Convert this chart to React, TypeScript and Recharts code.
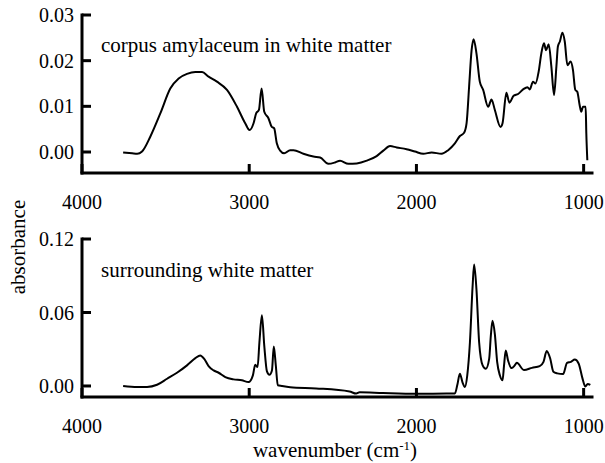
import { Line, LineChart, XAxis, YAxis } from 'recharts';

// corpus amylaceum spectrum (top panel)
const caWavenumber = [
  3754, 3700, 3670, 3641, 3591, 3531, 3472, 3422, 3372, 3322, 3282, 3243, 3193, 3133, 3073, 3024,
  2998, 2974, 2958, 2942, 2926, 2910, 2885, 2865, 2851, 2835, 2815, 2791, 2755, 2735, 2676, 2616,
  2576, 2527, 2487, 2457, 2407, 2357, 2297, 2238, 2198, 2158, 2118, 2059, 2009, 1959, 1909, 1850,
  1810, 1770, 1740, 1715, 1700, 1685, 1670, 1658, 1641, 1621, 1601, 1571, 1551, 1531, 1497, 1485,
  1462, 1444, 1419, 1392, 1362, 1336, 1322, 1303, 1288, 1269, 1253, 1237, 1225, 1209, 1193, 1177,
  1163, 1154, 1142, 1127, 1113, 1097, 1078, 1064, 1050, 1038, 1024, 1014, 1004, 988, 984, 978,
];
const caAbsorbance = [
  -0.0001, -0.0003, -0.0004, 0.0001, 0.0034, 0.0085, 0.0139, 0.0161, 0.0171, 0.0175, 0.0175,
  0.0165, 0.0154, 0.0136, 0.0099, 0.0063, 0.0048, 0.0063, 0.0085, 0.0092, 0.0139, 0.0088, 0.0074,
  0.0055, 0.0052, 0.0019, 0.0003, -0.0003, 0.0004, 0.0004, -0.0004, -0.001, -0.0012, -0.0026,
  -0.0023, -0.0019, -0.0026, -0.0025, -0.0019, -0.0009, 0.0003, 0.0013, 0.001, 0.0006, 0.0001,
  -0.0004, -0.0001, -0.0004, 0.0004, 0.0019, 0.0035, 0.0042, 0.0063, 0.0143, 0.0223, 0.0247,
  0.0216, 0.0154, 0.0136, 0.0099, 0.0115, 0.0092, 0.0055, 0.0063, 0.013, 0.0108, 0.0123, 0.0127,
  0.0137, 0.0142, 0.0137, 0.0154, 0.015, 0.0176, 0.0216, 0.0238, 0.0223, 0.0236, 0.0187, 0.0125,
  0.0187, 0.0231, 0.0242, 0.0261, 0.0242, 0.019, 0.0198, 0.018, 0.0136, 0.0132, 0.0103, 0.0088,
  0.0099, 0.0099, 0.0041, -0.0018,
];

// surrounding white matter spectrum (bottom panel)
const wmWavenumber = [
  3754, 3670, 3611, 3551, 3491, 3432, 3372, 3322, 3293, 3269, 3243, 3213, 3183, 3143, 3094, 3044,
  3004, 2978, 2964, 2950, 2939, 2924, 2910, 2894, 2879, 2864, 2853, 2841, 2829, 2805, 2755, 2600,
  2400, 2360, 2340, 2200, 2000, 1800, 1770, 1756, 1740, 1724, 1710, 1696, 1680, 1664, 1655, 1641,
  1625, 1604, 1585, 1565, 1555, 1545, 1531, 1517, 1501, 1485, 1476, 1466, 1452, 1431, 1412, 1400,
  1356, 1309, 1263, 1240, 1221, 1200, 1181, 1158, 1123, 1099, 1076, 1053, 1030, 1007, 990, 976, 960,
];
const wmAbsorbance = [
  0, -0.0008, -0.0008, 0.001, 0.0059, 0.0108, 0.0168, 0.0227, 0.0249, 0.0221, 0.0162, 0.0127,
  0.0108, 0.0073, 0.0054, 0.0046, 0.0032, 0.0087, 0.0173, 0.0154, 0.0357, 0.0578, 0.033, 0.0119,
  0.0092, 0.0127, 0.0322, 0.0168, 0.0006, 0, -0.001, -0.002, -0.0045, -0.0062, -0.0052, -0.0058,
  -0.0064, -0.0062, -0.0062, 0.0005, 0.01, 0.0027, -0.0008, 0.0087, 0.0357, 0.0816, 0.0992,
  0.0789, 0.0357, 0.0168, 0.014, 0.0221, 0.0411, 0.0533, 0.0424, 0.0195, 0.0087, 0.0046, 0.0168,
  0.029, 0.0208, 0.0146, 0.0168, 0.0189, 0.013, 0.0148, 0.0162, 0.0197, 0.0286, 0.0224, 0.0116,
  0.0103, 0.0097, 0.0189, 0.0197, 0.0216, 0.0184, 0.0062, -0.0005, 0.0016, 0.0008,
];

const xTicks = [4000, 3000, 2000, 1000];
const caTicks = [0, 0.01, 0.02, 0.03];
const wmTicks = [0, 0.06, 0.12];

const FONT = "'Liberation Serif', 'Times New Roman', Times, serif";
const frame = { stroke: '#000', strokeWidth: 3, strokeLinecap: 'square' as const };
const tickMark = { stroke: '#000', strokeWidth: 3 };
const tickText = { fill: '#000', fontSize: 20, style: { fontFamily: FONT } };

function toRows(wn: number[], ab: number[]) {
  return wn.map((w, i) => ({ wn: w, ab: ab[i] }));
}

function Panel({
  data,
  yDomain,
  yTicks,
  height,
  top,
  marginTop,
  marginBottom,
}: {
  data: { wn: number; ab: number }[];
  yDomain: [number, number];
  yTicks: number[];
  height: number;
  top: number;
  marginTop: number;
  marginBottom: number;
}) {
  return (
    <LineChart
      width={605}
      height={height}
      data={data}
      margin={{ top: marginTop, right: 13, bottom: marginBottom, left: 0 }}
      style={{ position: 'absolute', left: 0, top, fontFamily: FONT }}
    >
      <XAxis
        xAxisId="b"
        dataKey="wn"
        type="number"
        domain={[950, 4000]}
        reversed
        allowDataOverflow
        ticks={xTicks}
        interval={0}
        height={30}
        tickSize={-9}
        tickMargin={31}
        axisLine={frame}
        tickLine={tickMark}
        tick={tickText}
      />
      <XAxis
        xAxisId="t"
        orientation="top"
        dataKey="wn"
        type="number"
        domain={[950, 4000]}
        reversed
        allowDataOverflow
        ticks={xTicks}
        interval={0}
        height={0}
        tickSize={-9}
        axisLine={frame}
        tickLine={tickMark}
        tick={false}
      />
      <YAxis
        yAxisId="l"
        type="number"
        domain={yDomain}
        allowDataOverflow
        ticks={yTicks}
        interval={0}
        width={82}
        tickSize={-9}
        tickMargin={17}
        axisLine={frame}
        tickLine={tickMark}
        tick={tickText}
        tickFormatter={(v: number) => v.toFixed(2)}
      />
      <YAxis
        yAxisId="r"
        orientation="right"
        type="number"
        domain={yDomain}
        allowDataOverflow
        ticks={yTicks}
        interval={0}
        width={0}
        tickSize={-9}
        axisLine={frame}
        tickLine={tickMark}
        tick={false}
      />
      <Line
        xAxisId="b"
        yAxisId="l"
        dataKey="ab"
        type="monotone"
        stroke="#000"
        strokeWidth={2}
        dot={false}
        isAnimationActive={false}
      />
    </LineChart>
  );
}

export default function App() {
  return (
    <div
      style={{
        position: 'absolute',
        left: 0,
        top: 0,
        width: 605,
        height: 463,
        background: '#fff',
        fontFamily: FONT,
      }}
    >
      <Panel
        data={toRows(caWavenumber, caAbsorbance)}
        yDomain={[-0.0046, 0.03]}
        yTicks={caTicks}
        height={215}
        top={0}
        marginTop={15}
        marginBottom={12}
      />
      <Panel
        data={toRows(wmWavenumber, wmAbsorbance)}
        yDomain={[-0.009, 0.12]}
        yTicks={wmTicks}
        height={243}
        top={220}
        marginTop={19}
        marginBottom={36}
      />
      <svg
        width={605}
        height={463}
        style={{ position: 'absolute', left: 0, top: 0, pointerEvents: 'none', fontFamily: FONT }}
        fontSize={21}
        fill="#000"
      >
        <text x={101} y={52}>corpus amylaceum in white matter</text>
        <text x={101} y={277}>surrounding white matter</text>
        <text transform="translate(25,247) rotate(-90)" textAnchor="middle">absorbance</text>
        <text x={335} y={457} textAnchor="middle">
          wavenumber (cm
          <tspan dy={-7} fontSize={13}>-1</tspan>
          <tspan dy={7}>)</tspan>
        </text>
      </svg>
    </div>
  );
}
